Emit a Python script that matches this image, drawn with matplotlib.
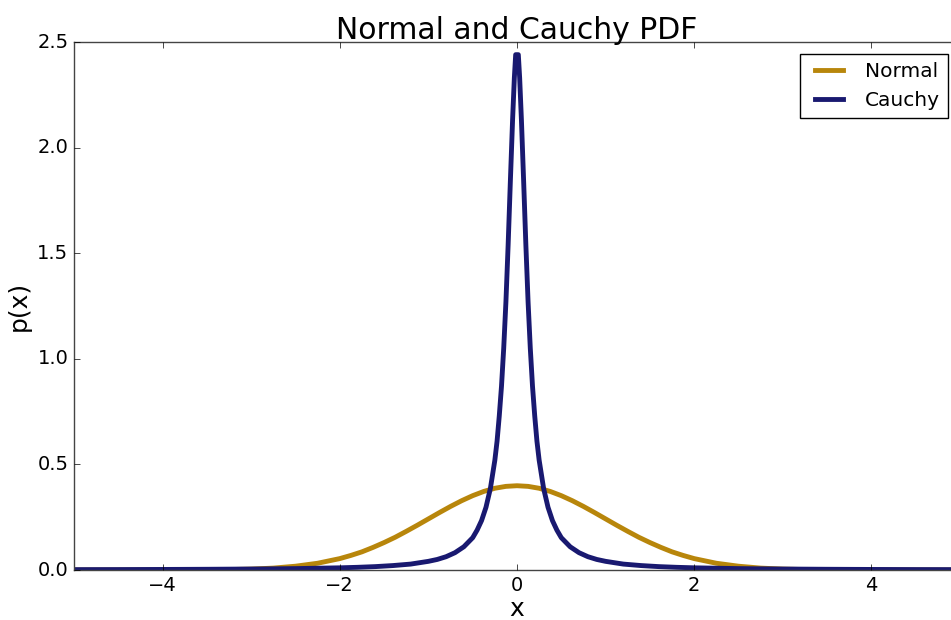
import matplotlib
matplotlib.use('Agg')
import matplotlib.pyplot as plt

plt.style.use('classic')

# values (curves are symmetric about x = 0)
normal_x_half = [0, 0.125, 0.25, 0.375, 0.5, 0.625, 0.75, 0.875, 1.0, 1.125, 1.25,
                 1.375, 1.5, 1.625, 1.75, 1.875, 2.0, 2.25, 2.5, 2.75, 3.0, 3.25,
                 3.5, 4.0, 5.0]
normal_y_half = [0.399, 0.396, 0.387, 0.372, 0.352, 0.328, 0.301, 0.272, 0.242,
                 0.212, 0.183, 0.155, 0.130, 0.107, 0.086, 0.069, 0.054, 0.032,
                 0.018, 0.009, 0.0044, 0.002, 0.0009, 0.0001, 0.0]

cauchy_x_half = [0.015, 0.03, 0.05, 0.075, 0.1, 0.125, 0.15, 0.175, 0.2, 0.225,
                 0.25, 0.3, 0.35, 0.4, 0.45, 0.5, 0.6, 0.7, 0.8, 0.9, 1.0, 1.2,
                 1.4, 1.6, 1.8, 2.0, 2.5, 3.0, 3.5, 4.0, 4.5, 5.0]
cauchy_y_half = [2.44, 2.33, 2.13, 1.84, 1.54, 1.27, 1.05, 0.87, 0.73, 0.61,
                 0.52, 0.387, 0.297, 0.234, 0.189, 0.153, 0.110, 0.082, 0.063,
                 0.050, 0.041, 0.028, 0.021, 0.016, 0.0127, 0.0103, 0.0066,
                 0.0046, 0.0034, 0.0026, 0.0020, 0.0017]

# mirror to the negative side
normal_x = [-v for v in normal_x_half[:0:-1]] + normal_x_half
normal_y = normal_y_half[:0:-1] + normal_y_half
cauchy_x = [-v for v in cauchy_x_half[::-1]] + cauchy_x_half
cauchy_y = cauchy_y_half[::-1] + cauchy_y_half

fig = plt.figure(figsize=(9.51, 6.2), dpi=100, facecolor='white')
ax = fig.add_axes([74 / 951, 50 / 620, 886 / 951, 528 / 620])

ax.plot(normal_x, normal_y, color='#B8860B', linewidth=3.5, label='Normal',
        solid_joinstyle='round')
ax.plot(cauchy_x, cauchy_y, color='#191970', linewidth=3.5, label='Cauchy',
        solid_joinstyle='round')

ax.set_xlim(-5, 5)
ax.set_ylim(0, 2.5)
ax.set_xticks([-4, -2, 0, 2, 4])
ax.set_yticks([0.0, 0.5, 1.0, 1.5, 2.0, 2.5])
ax.tick_params(labelsize=14)
for s in ax.spines.values():
    s.set_edgecolor('#444444')

ax.set_title('Normal and Cauchy PDF', fontsize=21.5, pad=2)
ax.set_xlabel('x', fontsize=18, labelpad=2)
ax.set_ylabel('p(x)', fontsize=18)
ax.legend(loc='upper right', fontsize=14.5, borderaxespad=0.6)

fig.savefig('out.png', dpi=100, facecolor='white')
